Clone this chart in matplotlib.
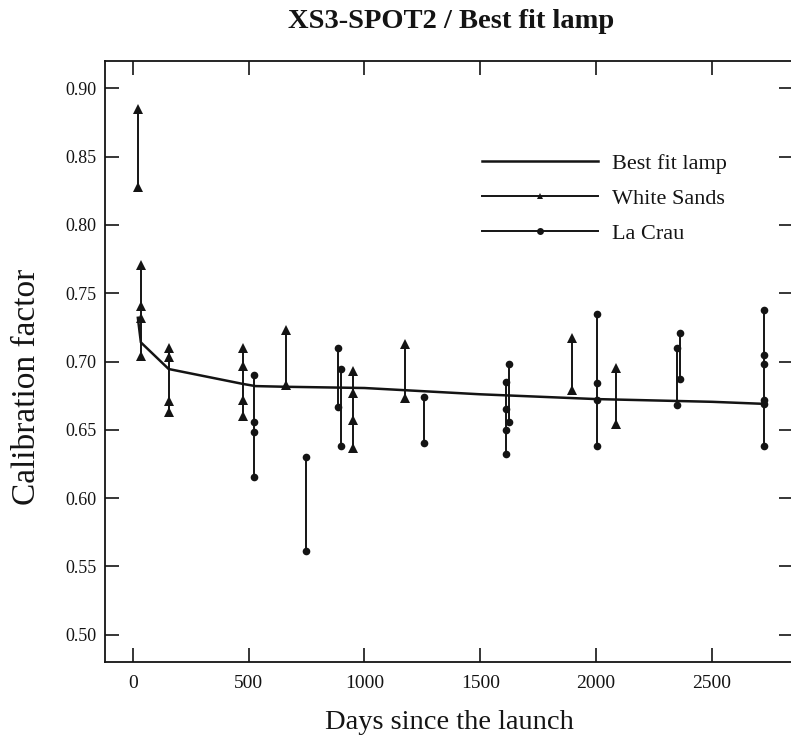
import matplotlib
matplotlib.use("Agg")
import matplotlib.pyplot as plt
from matplotlib.lines import Line2D

plt.rcParams['font.family'] = ['Liberation Serif', 'DejaVu Serif']

# best fit lamp curve
fit_days = [22, 35, 155, 475, 530, 661, 1000, 1500, 2000, 2500, 2724]
fit_values = [0.732, 0.714, 0.6945, 0.6836, 0.682, 0.6815, 0.6806, 0.676, 0.6725, 0.6705, 0.669]

# White Sands campaigns (one list of values per date)
ws_days = [22, 35, 155, 475, 661, 950, 1174, 1895, 2085]
ws_values = [
    [0.885, 0.828],
    [0.771, 0.741, 0.732, 0.704],
    [0.710, 0.703, 0.671, 0.663],
    [0.710, 0.697, 0.672, 0.660],
    [0.723, 0.683],
    [0.693, 0.677, 0.657, 0.637],
    [0.713, 0.673],
    [0.717, 0.679],
    [0.695, 0.654],
]

# La Crau campaigns
lc_days = [522, 747, 885, 898, 1257, 1612, 1624, 2003, 2350, 2362, 2724]
lc_values = [
    [0.690, 0.656, 0.6485, 0.6155],
    [0.630, 0.561],
    [0.710, 0.667],
    [0.6945, 0.638],
    [0.674, 0.640],
    [0.685, 0.665, 0.650, 0.632],
    [0.698, 0.656],
    [0.735, 0.684, 0.672, 0.638],
    [0.710, 0.668],
    [0.721, 0.687],
    [0.738, 0.705, 0.698, 0.672, 0.669, 0.638],
]

x_ticks = [0, 500, 1000, 1500, 2000, 2500]
y_ticks = [0.50, 0.55, 0.60, 0.65, 0.70, 0.75, 0.80, 0.85, 0.90]

ink = '#141414'

fig = plt.figure(figsize=(7.91, 7.44), dpi=100)
ax = fig.add_axes([0.1327, 0.1102, 0.8698, 0.8078])

ax.plot(fit_days, fit_values, color=ink, lw=1.8, zorder=3)

for d, vals in zip(ws_days, ws_values):
    ax.plot([d] * len(vals), vals, color=ink, lw=1.4, marker='^', markersize=6.5,
            markeredgewidth=0, zorder=4)

for d, vals in zip(lc_days, lc_values):
    ax.plot([d] * len(vals), vals, color=ink, lw=1.4, marker='o', markersize=5.5,
            markeredgewidth=0, zorder=4)

ax.set_xlim(-120, 2850)
ax.set_ylim(0.48, 0.92)
ax.set_xticks(x_ticks)
ax.set_yticks(y_ticks)
ax.set_yticklabels([f'{v:.2f}' for v in y_ticks])

ax.tick_params(direction='in', top=True, right=True, length=10, width=1.2, color=ink)
ax.tick_params(axis='x', labelsize=14, pad=9, labelcolor=ink)
ax.tick_params(axis='y', labelsize=13, pad=6, labelcolor=ink)
for s in ax.spines.values():
    s.set_linewidth(1.3)
    s.set_color(ink)

ax.set_xlabel('Days since the launch', fontsize=20.5, color=ink, labelpad=13)
ax.set_ylabel('Calibration factor', fontsize=24, color=ink)
ax.yaxis.set_label_coords(-0.092, 0.458)
fig.text(0.57, 0.962, 'XS3-SPOT2 / Best fit lamp', ha='center', va='baseline',
         fontsize=20.5, fontweight='bold', color=ink)

handles = [
    Line2D([], [], color=ink, lw=1.8),
    Line2D([], [], color=ink, lw=1.4, marker='^', markersize=5, markeredgewidth=0),
    Line2D([], [], color=ink, lw=1.4, marker='o', markersize=5, markeredgewidth=0),
]
ax.legend(handles, ['Best fit lamp', 'White Sands', 'La Crau'], loc='upper left',
          bbox_to_anchor=(0.548, 0.846), frameon=False, fontsize=16, numpoints=1,
          handlelength=5.23, handletextpad=0.63, labelspacing=0.65, borderpad=0,
          borderaxespad=0, labelcolor=ink)

fig.savefig('out.png', dpi=100, facecolor='white')
